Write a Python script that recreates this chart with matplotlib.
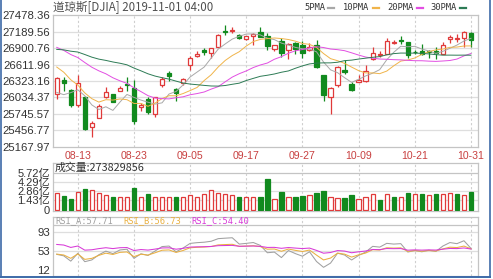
import numpy as np
import matplotlib
matplotlib.use("Agg")
import matplotlib.pyplot as plt
from matplotlib.lines import Line2D

# ---------------- data ----------------
dates = ["08-08", "08-09", "08-12", "08-13", "08-14", "08-15", "08-16", "08-19", "08-20", "08-21",
         "08-22", "08-23", "08-26", "08-27", "08-28", "08-29", "08-30", "09-03", "09-04", "09-05",
         "09-06", "09-09", "09-10", "09-11", "09-12", "09-13", "09-16", "09-17", "09-18", "09-19",
         "09-20", "09-23", "09-24", "09-25", "09-26", "09-27", "09-30", "10-01", "10-02", "10-03",
         "10-04", "10-07", "10-08", "10-09", "10-10", "10-11", "10-14", "10-15", "10-16", "10-17",
         "10-18", "10-21", "10-22", "10-23", "10-24", "10-25", "10-28", "10-29", "10-30", "10-31"]
label_dates = ["08-13", "08-23", "09-05", "09-17", "09-27", "10-09", "10-21", "10-31"]

prior_close = [24819.78, 25332.18, 25539.57, 25720.66, 25983.94, 26062.68, 26048.51, 26004.83,
               26106.77, 26089.61, 26112.53, 26465.54, 26504.00, 26753.17, 26719.13, 26727.54,
               26548.22, 26536.82, 26526.58, 26599.96, 26717.43, 26786.68, 26966.00, 26922.12,
               26806.14, 26783.49, 26860.20, 27088.08, 27332.03, 27359.16, 27335.63, 27219.85,
               27222.97, 27154.20, 27171.90, 27349.19, 27269.97, 27140.98, 27192.45, 27221.35,
               27198.02, 26864.27, 26583.42, 26485.01, 25717.74, 26029.52, 26007.07]

open_ = [26100, 26340, 26170, 25895, 26040, 25510, 25683, 26040, 26090, 26150,
         26265, 26200, 25860, 26000, 25743, 26250, 26470, 26180, 26280, 26600,
         26766, 26860, 26815, 26922, 27195, 27205, 27127, 27060, 27105, 27173,
         27115, 26880, 27020, 26870, 26984, 26950, 26860, 26962, 26426, 26039,
         26260, 26512, 26270, 26306, 26329, 26700, 26778, 26800, 26995, 27035,
         27004, 26836, 26857, 26845, 26844, 26792, 27050, 27060, 27080, 27165]
high = [26390, 26400, 26185, 26430, 26060, 25620, 25920, 26215, 26100, 26238,
        26392, 26340, 25930, 26041, 26043, 26386, 26491, 26200, 26374, 26763,
        26844, 26897, 26909, 27139, 27306, 27268, 27154, 27119, 27157, 27272,
        27172, 26961, 27079, 26991, 27002, 27017, 26996, 27047, 26426, 26210,
        26578, 26688, 26300, 26428, 26608, 26911, 26848, 27077, 27042, 27107,
        27004, 26873, 26973, 26870, 26914, 27001, 27130, 27138, 27199, 27177]
low = [26000, 26150, 25860, 25870, 25466, 25339, 25683, 26026, 25953, 26140,
       26140, 25566, 25790, 25746, 25689, 26210, 26331, 25979, 26248, 26513,
       26749, 26781, 26720, 26912, 27130, 27165, 27061, 27033, 26949, 27087,
       26861, 26851, 26750, 26712, 26787, 26723, 26851, 26552, 25975, 25743,
       26213, 26440, 26143, 26298, 26299, 26690, 26737, 26790, 26976, 26970,
       26717, 26787, 26777, 26723, 26710, 26788, 26996, 27000, 26923, 26920]
close = [26378.19, 26287.44, 25896.44, 26279.91, 25479.42, 25579.39, 25886.01, 26135.79, 25962.44, 26202.73,
         26252.24, 25628.90, 25898.83, 25777.90, 26036.10, 26362.25, 26403.28, 26118.02, 26355.47, 26728.15,
         26797.46, 26835.51, 26909.43, 27137.04, 27182.45, 27219.52, 27076.82, 27110.80, 27147.08, 27094.79,
         26935.07, 26949.99, 26807.77, 26970.71, 26891.12, 26820.25, 26916.83, 26573.04, 26078.62, 26201.04,
         26573.72, 26478.02, 26164.04, 26346.01, 26496.67, 26816.59, 26787.36, 27024.80, 27001.98, 27025.88,
         26770.20, 26827.64, 26788.10, 26833.95, 26805.53, 26958.06, 27090.72, 27071.42, 27186.69, 27046.23]
volume_yi = [2.52, 2.15, 1.70, 2.67, 3.20, 3.05, 2.50, 2.25, 2.00, 1.90,
             1.95, 3.30, 2.00, 2.40, 1.90, 1.90, 1.90, 1.90, 1.90, 2.25,
             1.90, 2.40, 3.00, 2.50, 2.40, 2.25, 1.90, 1.90, 1.90, 1.90,
             4.75, 1.60, 2.75, 1.95, 1.95, 2.10, 2.20, 2.60, 2.90, 1.95,
             1.75, 1.80, 2.20, 1.70, 1.90, 2.45, 1.50, 2.35, 1.90, 1.95,
             2.50, 2.35, 2.35, 2.20, 2.35, 2.40, 2.55, 2.40, 2.25, 2.74]

price_ticks = [25167.97, 25456.77, 25745.57, 26034.37, 26323.16, 26611.96, 26900.76, 27189.56, 27478.36]
vol_ticks = [0, 1.43, 2.86, 4.29, 5.72]
vol_tick_labels = ["0", "1.43亿", "2.86亿", "4.29亿", "5.72亿"]
rsi_ticks = [12, 53, 93]
ma_periods = [5, 10, 20, 30]
ma_names = ["5PMA", "10PMA", "20PMA", "30PMA"]
rsi_periods = [6, 12, 24]
rsi_labels = ["RSI_A:57.71", "RSI_B:56.73", "RSI_C:54.40"]
title_text = "道琼斯[DJIA] 2019-11-01 04:00"
vol_label = "成交量:273829856"

# ---------------- styles ----------------
RED = "#e03a3a"
GREEN = "#118a1e"
MA_COLORS = ["#a8a8a8", "#f0b44a", "#e24ee2", "#2d7b55"]
RSI_COLORS = ["#a0a0a0", "#eab040", "#d83ad8"]
FRAME = "#c4c4c4"
GRID = "#dedede"
NUM_FONT = ["Liberation Sans", "Noto Sans CJK SC"]
CJK_FONT = ["Noto Sans CJK SC", "DejaVu Sans"]
MONO = ["DejaVu Sans Mono"]

W, H = 493, 279
fig = plt.figure(figsize=(W / 100, H / 100), dpi=100)
fig.patch.set_facecolor("white")


def fx(px):
    return px / W


def fy(py):
    return 1 - py / H


def add_ax(x0, y0, x1, y1):
    a = fig.add_axes([fx(x0), fy(y1), fx(x1) - fx(x0), fy(y0) - fy(y1)])
    for s in a.spines.values():
        s.set_color(FRAME)
        s.set_linewidth(0.9)
    a.tick_params(length=0, pad=2, labelsize=8, colors="#333333")
    return a


n = len(close)
xs = np.arange(n)
all_close = np.array(prior_close + close)
o = np.array(open_, float)
c = np.array(close, float)
up = c >= o
XLIM = (-0.53, n + 0.0)
tick_pos = [dates.index(d) for d in label_dates]

# ---------------- main price panel ----------------
ax = add_ax(53, 15, 478, 147)
ax.set_xlim(*XLIM)
ax.set_ylim(price_ticks[0], price_ticks[-1])
ax.set_yticks(price_ticks)
ax.set_yticklabels([f"{v:.2f}" for v in price_ticks], family=NUM_FONT, fontsize=8.2)
ax.set_xticks(tick_pos)
ax.set_xticklabels(label_dates, family=NUM_FONT, fontsize=7.6, color="#c84040")
ax.tick_params(axis="x", pad=3)
for v in price_ticks[1:-1]:
    ax.axhline(v, color=GRID, lw=0.9, zorder=0)
for p in tick_pos:
    ax.axvline(p, color="#cfcfcf", lw=0.8, ls=(0, (2, 2)), zorder=0)

for i in range(n):
    col = RED if up[i] else GREEN
    ax.vlines(xs[i], low[i], high[i], color=col, lw=0.9, zorder=2)
    bot = min(o[i], c[i])
    hgt = abs(c[i] - o[i])
    ax.bar(xs[i], hgt, bottom=bot, width=0.62,
           facecolor="white" if up[i] else GREEN, edgecolor=col, lw=0.9, zorder=3)

for per, colr in zip(ma_periods, MA_COLORS):
    ma = np.convolve(all_close, np.ones(per) / per, mode="valid")[-n:]
    ax.plot(xs, ma, color=colr, lw=0.7, zorder=4)

# title & legend
fig.text(fx(53), fy(7.5), title_text, family=CJK_FONT, fontsize=8.3, color="#505050",
         va="center", ha="left")
leg_x = [304, 343, 387, 430]
for name, colr, lx in zip(ma_names, MA_COLORS, leg_x):
    fig.text(fx(lx), fy(7.5), name, family=MONO, fontsize=6.3, color="#333333",
             va="center", ha="left")
    wpx = len(name) * 5.3
    fig.add_artist(Line2D([fx(lx + wpx + 3), fx(lx + wpx + 9)], [fy(7.5), fy(7.5)],
                          color=colr, lw=1.6))

# ---------------- volume panel ----------------
axv = add_ax(53, 163, 478, 211)
axv.set_xlim(*XLIM)
axv.set_ylim(-0.23, 7.23)
axv.set_yticks(vol_ticks)
axv.set_yticklabels(vol_tick_labels, family=NUM_FONT, fontsize=8)
axv.set_xticks([])
for v in vol_ticks[1:]:
    axv.axhline(v, color=GRID if v != vol_ticks[-1] else FRAME, lw=0.9, zorder=0)
for p in tick_pos:
    axv.axvline(p, color="#cfcfcf", lw=0.8, ls=(0, (2, 2)), zorder=0)
prev = np.concatenate([[prior_close[-1]], c[:-1]])
vup = c >= prev
for i in range(n):
    col = RED if vup[i] else GREEN
    axv.bar(xs[i], volume_yi[i], width=0.62, facecolor="white" if vup[i] else GREEN,
            edgecolor=col, lw=0.9, zorder=3)
axv.text(0.004, (211 - 168) / 48, vol_label, transform=axv.transAxes, family=CJK_FONT,
         fontsize=7.8, color="#333333", va="center", ha="left")

# ---------------- RSI panel ----------------
axr = add_ax(53, 217, 478, 276)
axr.set_xlim(*XLIM)
axr.set_ylim(-0.7, 124.1)
axr.set_yticks(rsi_ticks)
axr.set_yticklabels([str(v) for v in rsi_ticks], family=NUM_FONT, fontsize=8.2)
axr.set_xticks([])
axr.axhline(107.2, color=FRAME, lw=0.9, zorder=0)
for v in [53, 93]:
    axr.axhline(v, color=GRID, lw=0.9, zorder=0)
for p in tick_pos:
    axr.axvline(p, color="#cfcfcf", lw=0.8, ls=(0, (2, 2)), zorder=0)

diff = np.diff(all_close)
gain = np.maximum(diff, 0)
absd = np.abs(diff)


def sma_cn(x, per):
    out = np.empty_like(x)
    out[0] = x[0]
    for k in range(1, len(x)):
        out[k] = (x[k] + (per - 1) * out[k - 1]) / per
    return out


for per, colr in zip(rsi_periods, RSI_COLORS):
    rsi = sma_cn(gain, per) / sma_cn(absd, per) * 100
    axr.plot(xs, rsi[-n:], color=colr, lw=0.75, zorder=4)

rsi_label_x = [55, 123, 191]
for txt, colr, lx in zip(rsi_labels, RSI_COLORS, rsi_label_x):
    fig.text(fx(lx), fy(221), txt, family=MONO, fontsize=6.3, color=colr,
             va="center", ha="left")

# ---------------- outer frame ----------------
fig.add_artist(Line2D([fx(0.7), fx(0.7)], [fy(0), fy(277)], color="#3d6aa8", lw=1.2))
fig.add_artist(Line2D([fx(489.5), fx(489.5)], [fy(0), fy(277)], color="#3d6aa8", lw=1.2))
fig.add_artist(Line2D([fx(0), fx(490)], [fy(276.8), fy(276.8)], color="#3d6aa8", lw=1.4))

fig.savefig("out.png", dpi=100, facecolor="white")
